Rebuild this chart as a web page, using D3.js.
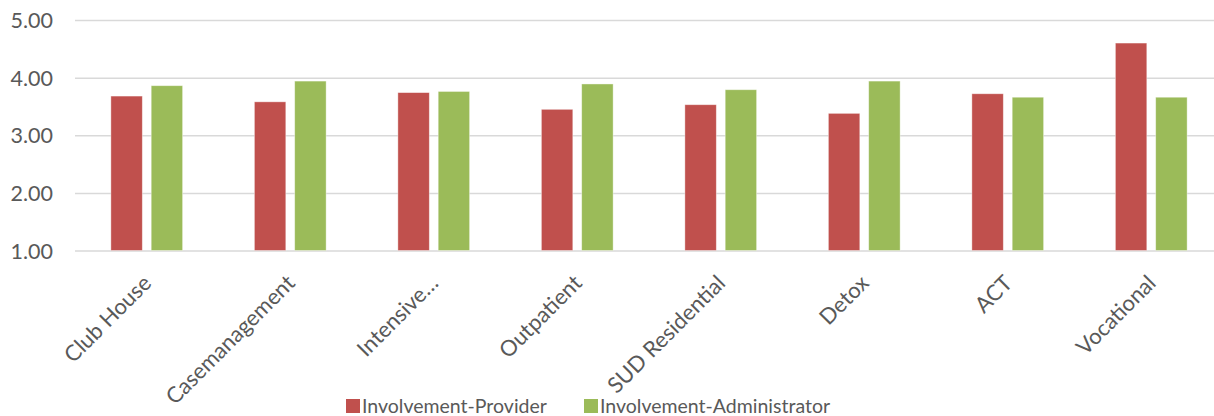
<!DOCTYPE html>
<html>
<head>
<meta charset="utf-8">
<script src="https://cdn.jsdelivr.net/npm/d3@7"></script>
<style>
  html, body { margin: 0; padding: 0; background: #fff; }
  svg { display: block; }
  text { font-family: Lato, "Open Sans", sans-serif; fill: #595959; }
</style>
</head>
<body>
<svg id="chart" width="1214" height="416"></svg>
<script>
const categories = ["Club House", "Casemanagement", "Intensive…", "Outpatient", "SUD Residential", "Detox", "ACT", "Vocational"];
const seriesNames = ["Involvement-Provider", "Involvement-Administrator"];
const providerValues = [3.68, 3.58, 3.74, 3.45, 3.53, 3.38, 3.72, 4.60];
const adminValues = [3.86, 3.94, 3.76, 3.89, 3.79, 3.94, 3.66, 3.66];
const yTicks = [1, 2, 3, 4, 5];
const colors = ["#C0504D", "#9BBB59"];

(function () {
const svg = d3.select("#chart");
const pLeft = 75, pRight = 1223, pTop = 20, pBottom = 250.5;

const x = d3.scaleBand().domain(categories).range([pLeft, pRight]).paddingInner(0.5).paddingOuter(0.25);
const x1 = d3.scaleBand().domain(seriesNames).range([0, x.bandwidth()]).paddingInner(0.22);
const y = d3.scaleLinear().domain([1, 5]).range([pBottom, pTop]);

// gridlines
const grid = svg.append("g").attr("transform", `translate(${pLeft},0)`)
  .call(d3.axisLeft(y).tickValues(yTicks).tickSize(-(pRight - pLeft)).tickFormat(""));
grid.select(".domain").remove();
grid.selectAll(".tick line").attr("stroke", "#d9d9d9").attr("stroke-width", 1.5);

// y labels
const yAx = svg.append("g").attr("transform", `translate(53,0)`)
  .call(d3.axisLeft(y).tickValues(yTicks).tickSize(0).tickPadding(0).tickFormat(d3.format(".2f")));
yAx.select(".domain").remove();
yAx.selectAll("text").attr("font-size", 21.5).attr("dy", 7.7).attr("fill", "#595959")
  .style("font-family", "Lato, 'Open Sans', sans-serif");

// bars
const rows = categories.map((c, i) => ({ cat: c, vals: [providerValues[i], adminValues[i]] }));
const groups = svg.append("g").selectAll("g").data(rows).join("g")
  .attr("transform", d => `translate(${x(d.cat)},0)`);
groups.selectAll("rect").data(d => d.vals.map((v, j) => ({ name: seriesNames[j], v, j })))
  .join("rect")
  .attr("x", d => x1(d.name))
  .attr("width", x1.bandwidth())
  .attr("y", d => y(d.v))
  .attr("height", d => y(1) - y(d.v))
  .attr("fill", d => colors[d.j])
  .attr("stroke", "#ffffff").attr("stroke-opacity", 0.5).attr("stroke-width", 0.8);

// x labels
const xAx = svg.append("g").attr("transform", `translate(0,${pBottom})`)
  .call(d3.axisBottom(x).tickSize(0).tickPadding(0));
xAx.select(".domain").remove();
xAx.selectAll("text")
  .attr("font-size", 22).attr("fill", "#595959")
  .style("font-family", "Lato, 'Open Sans', sans-serif")
  .attr("text-anchor", "end")
  .attr("y", 0).attr("dy", 0)
  .attr("transform", "translate(6,34) rotate(-45)");

// legend
const legendX = [346, 584];
const lg = svg.append("g").selectAll("g").data(seriesNames).join("g")
  .attr("transform", (d, i) => `translate(${legendX[i]},399)`);
lg.append("rect").attr("width", 14).attr("height", 14).attr("fill", (d, i) => colors[i]);
lg.append("text").attr("x", 16).attr("y", 13.5).attr("font-size", 19.5).text(d => d);
})();
</script>
</body>
</html>
